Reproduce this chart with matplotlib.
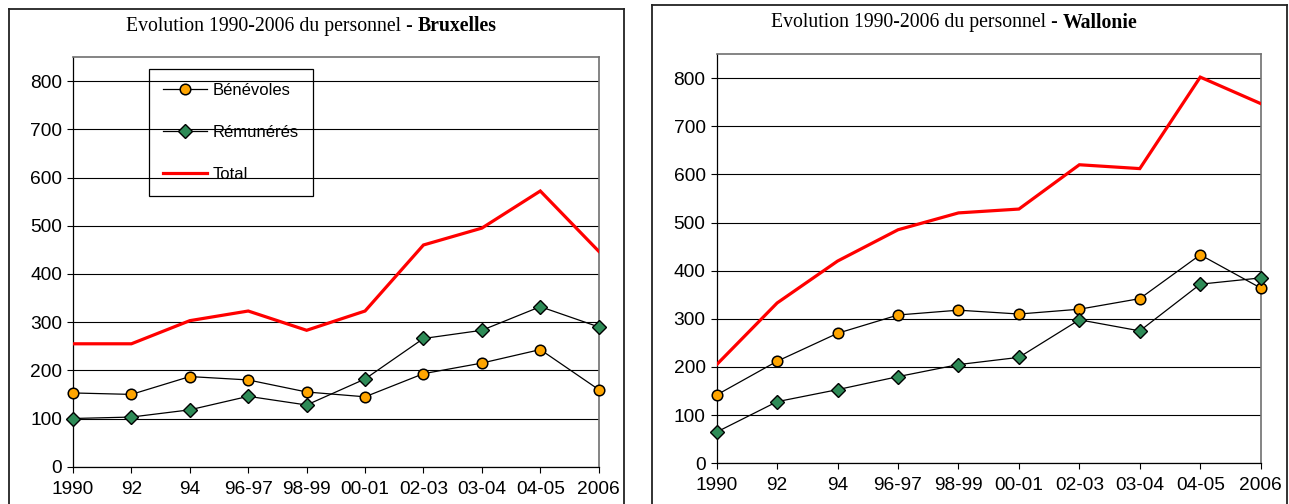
import matplotlib
matplotlib.use("Agg")
import matplotlib.pyplot as plt
from matplotlib.lines import Line2D

# Category labels (survey periods)
periods = ["1990", "92", "94", "96-97", "98-99", "00-01", "02-03", "03-04", "04-05", "2006"]

# Bruxelles staff counts
bxl_benevoles = [153, 150, 187, 180, 155, 145, 193, 215, 243, 160]
bxl_remuneres = [100, 103, 118, 146, 128, 182, 266, 283, 332, 290]
bxl_total = [255, 255, 303, 323, 283, 323, 460, 495, 572, 447]

# Wallonie staff counts
wal_benevoles = [142, 212, 270, 308, 318, 310, 320, 342, 433, 364]
wal_remuneres = [65, 128, 153, 180, 205, 220, 298, 275, 372, 385]
wal_total = [205, 333, 420, 485, 520, 528, 620, 612, 802, 747]

y_ticks = [0, 100, 200, 300, 400, 500, 600, 700, 800]

W, H = 1289, 504
DPI = 100
fig = plt.figure(figsize=(W / DPI, H / DPI), dpi=DPI)

SANS = "Liberation Sans"
SERIF = "Liberation Serif"
ORANGE = "#FFA500"
GREEN = "#2E8B57"
RED = "#FF0000"


def px_axes(x0, y0, x1, y1):
    """Create axes from pixel box (top-left origin)."""
    return fig.add_axes([x0 / W, 1 - y1 / H, (x1 - x0) / W, (y1 - y0) / H])


def frame(x0, y0, x1):
    """Outer chart frame; the bottom edge lies below the figure."""
    kw = dict(color="#222222", lw=1.3, transform=fig.transFigure)
    fig.add_artist(Line2D([x0 / W, x0 / W], [0, 1 - y0 / H], **kw))
    fig.add_artist(Line2D([x1 / W, x1 / W], [0, 1 - y0 / H], **kw))
    fig.add_artist(Line2D([x0 / W, x1 / W], [1 - y0 / H, 1 - y0 / H], **kw))


def title(cx, cy, normal, bold, size=14.2):
    t1 = fig.text(0, cy / H, normal, family=SERIF, fontsize=size,
                  ha="left", va="center", transform=fig.transFigure)
    t2 = fig.text(0, cy / H, bold, family=SERIF, fontsize=size, weight="bold",
                  ha="left", va="center", transform=fig.transFigure)
    fig.canvas.draw()
    r = fig.canvas.get_renderer()
    w1 = t1.get_window_extent(r).width
    w2 = t2.get_window_extent(r).width
    start = cx - (w1 + w2) / 2
    t1.set_x(start / W)
    t2.set_x((start + w1) / W)
    t1.set_y(1 - cy / H)
    t2.set_y(1 - cy / H)


def panel(ax, ben, rem, tot):
    x = list(range(len(periods)))
    ax.set_xlim(0, len(periods) - 1)
    ax.set_ylim(0, 850)
    ax.set_yticks(y_ticks)
    ax.set_xticks(x)
    ax.set_xticklabels(periods)
    ax.yaxis.grid(True, color="black", lw=0.8)
    ax.set_axisbelow(True)
    for s in ("top", "right"):
        ax.spines[s].set_color("#707070")
        ax.spines[s].set_linewidth(1.2)
    for s in ("left", "bottom"):
        ax.spines[s].set_color("black")
        ax.spines[s].set_linewidth(0.9)
    ax.tick_params(axis="both", direction="out", length=4, width=0.8,
                   labelsize=13.8, color="black")
    ax.tick_params(axis="y", pad=4)
    ax.tick_params(axis="x", pad=6)
    for lab in ax.get_xticklabels() + ax.get_yticklabels():
        lab.set_family(SANS)
    l1, = ax.plot(x, ben, color="black", lw=0.9, marker="o", ms=7.6,
                  mfc=ORANGE, mec="black", mew=1.1, clip_on=False,
                  label="Bénévoles", zorder=3)
    l2, = ax.plot(x, rem, color="black", lw=0.9, marker="D", ms=7.6,
                  mfc=GREEN, mec="black", mew=1.0, clip_on=False,
                  label="Rémunérés", zorder=4)
    l3, = ax.plot(x, tot, color=RED, lw=2.3, solid_joinstyle="miter",
                  label="Total", zorder=5)
    return l1, l2, l3


# Bruxelles
frame(9, 9, 624)
ax1 = px_axes(73, 57, 598.7, 466.7)
h = panel(ax1, bxl_benevoles, bxl_remuneres, bxl_total)
leg = ax1.legend(handles=list(h), loc="upper left",
                 bbox_to_anchor=(149 / W, 1 - 69 / H),
                 bbox_transform=fig.transFigure,
                 prop={"family": SANS, "size": 12},
                 frameon=True, fancybox=False, facecolor="none",
                 edgecolor="black", borderpad=0.85, labelspacing=1.62,
                 handlelength=2.6, handletextpad=0.35, borderaxespad=0)
leg.get_frame().set_linewidth(0.9)
leg.get_frame().set_alpha(None)

# Wallonie
frame(652, 5, 1287)
ax2 = px_axes(716.7, 54, 1260.7, 463.3)
panel(ax2, wal_benevoles, wal_remuneres, wal_total)

title(311, 26, "Evolution 1990-2006 du personnel - ", "Bruxelles")
title(954, 23, "Evolution 1990-2006 du personnel - ", "Wallonie")

fig.savefig("out.png", dpi=DPI)
